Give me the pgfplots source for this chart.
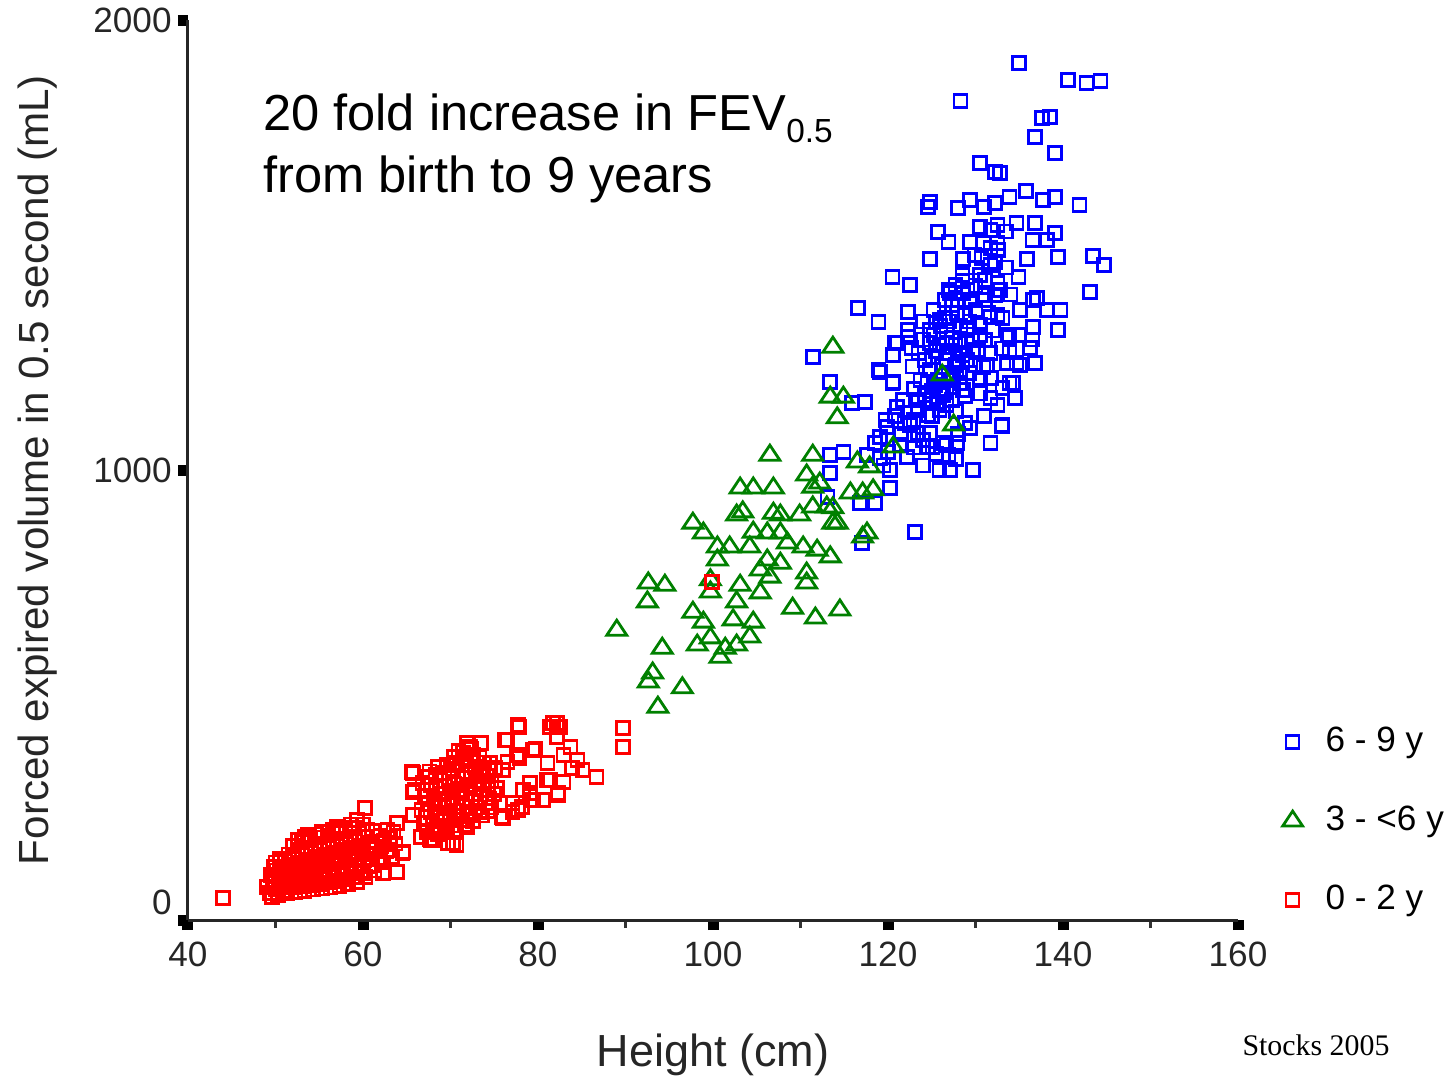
\documentclass[border=0pt]{standalone}
\usepackage{fontspec}
\setmainfont{Liberation Sans}
\newfontfamily\timesfont{Liberation Serif}
\usepackage{pgfplots}
\pgfplotsset{compat=1.18}
\definecolor{fgreen}{RGB}{0,128,0}

\begin{document}
\begin{tikzpicture}
\path[use as bounding box] (-18.8mm,-15.6mm) rectangle (126.7mm,92.0mm);
\begin{axis}[
    at={(0,0)}, anchor=south west,
    scale only axis,
    width=105mm, height=90mm,
    xmin=40, xmax=160, ymin=0, ymax=2000,
    axis x line*=bottom, axis y line*=left,
    axis line style={line width=0.3mm, black!85},
    xtick={40,60,...,160}, minor x tick num=1,
    ytick={0,1000,2000},
    yticklabels={{\raisebox{0.55mm}[0pt][0pt]{0}},1000,2000},
    tick align=outside,
    major tick length=1mm, minor tick length=0.8mm,
    every major tick/.append style={line width=1.1mm, black},
    every minor tick/.append style={line width=0.25mm, black!80},
    /pgf/number format/assume math mode=true,
    tick label style={font=\fontsize{10}{12}\selectfont, black!85},
    yticklabel style={xshift=0.6mm},
    xlabel={Height (cm)},
    ylabel={Forced expired volume in 0.5 second (mL)},
    every axis x label/.style={at={(axis description cs:0.5,-0.15)}, anchor=center,
        font=\fontsize{12.8}{14}\selectfont, black!85},
    every axis y label/.style={at={(axis description cs:-0.1429,0.5)}, rotate=90, anchor=center,
        font=\fontsize{12}{14}\selectfont, black!85},
    legend cell align=left,
    legend style={draw=none, fill=none, font=\fontsize{10}{12}\selectfont,
        at={(axis description cs:1,0.1133)}, anchor=west, xshift=4.4mm, yshift=-0.3mm,
        row sep=3.5mm, column sep=1.6mm, inner sep=0pt},
    clip=false,
]
% 6 - 9 y
\addplot[only marks, blue, mark=square, mark size=0.65mm, mark options={line width=0.26mm}] coordinates {
(135.0,1904) (140.6,1867) (142.7,1860) (144.3,1864) (128.3,1820) (137.6,1782) (138.5,1784)
(136.8,1740) (139.1,1704) (130.5,1682) (132.2,1662) (132.8,1660) (124.8,1596) (124.6,1584)
(128.0,1582) (129.4,1600) (132.2,1593) (133.9,1607) (135.8,1620) (137.7,1600) (139.1,1607)
(141.9,1589) (125.7,1529) (126.9,1507) (129.4,1507) (130.5,1540) (132.5,1544) (134.7,1549)
(136.8,1549) (139.1,1527) (136.5,1511) (138.2,1511) (130.9,1504) (132.5,1504) (124.8,1469)
(128.6,1469) (130.7,1471) (132.2,1462) (135.9,1469) (139.4,1473) (143.4,1476) (144.7,1456)
(120.5,1429) (122.5,1411) (128.5,1433) (130.5,1433) (132.5,1416) (134.9,1429) (143.1,1396)
(131.7,1533) (131.7,1493) (131.7,1456) (131.1,1422) (132.6,1489) (129.9,1478) (132.8,1400)
(131.1,1389)
(116.6,1360) (118.9,1329) (122.3,1351) (122.3,1311) (122.3,1296) (120.8,1282) (122.7,1271)
(120.6,1256) (119.1,1218) (120.5,1193) (121.7,1156) (123.3,1156) (125.0,1156) (126.7,1178)
(128.6,1178) (131.7,1160) (133.1,1182) (133.9,1193) (124.8,1311) (125.9,1333) (127.9,1349)
(128.6,1393) (127.1,1393) (129.0,1311) (130.5,1322) (131.7,1340) (132.5,1344) (133.1,1338)
(135.1,1356) (137.0,1382) (138.2,1356) (139.7,1356) (136.6,1318) (139.4,1311) (133.9,1296)
(136.2,1271) (133.9,1262) (134.7,1238) (136.8,1238) (133.6,1238) (131.3,1233) (131.7,1260)
(129.7,1267) (129.0,1244) (128.2,1216) (127.4,1184) (124.8,1222) (125.1,1251) (124.8,1282)
(126.7,1282) (128.2,1289) (126.7,1244) (126.7,1311)
(111.4,1251) (113.4,1196) (117.4,1151) (115.9,1149) (119.7,1111) (119.1,1073) (119.9,1096)
(121.9,1104) (122.9,1078) (124.8,1082) (125.1,1051) (126.7,1056) (128.8,1104) (129.4,1093)
(133.0,1098) (131.7,1060) (125.9,1000) (127.1,1000) (129.7,1000) (126.9,1033) (123.1,862)
(113.4,1033) (114.9,1040) (117.6,1033) (119.1,1027) (120.2,1000) (113.4,993) (120.2,960)
(113.1,940) (116.8,927) (117.0,838) (124.0,1067) (122.9,1111) (121.4,1056) (122.2,1029)
(118.5,927) (134.3,1193) (136.6,1378) (135.1,1233) (130.9,1229) (121.0,1282) (118.9,1222)
(120.6,1196) (123.4,1156) (125.6,1151) (122.5,1100) (123.4,1082) (124.6,1051) (126.3,1060)
(127.9,1060) (133.1,1100) (133.7,1300)
(126.5,1378) (127.3,1367) (128.0,1378) (126.5,1338) (127.3,1293) (127.7,1278) (128.5,1256)
(125.9,1278) (126.9,1211) (127.7,1233) (125.7,1200) (128.2,1193) (126.3,1167) (125.4,1189)
(124.2,1244) (123.7,1200) (124.2,1167) (123.4,1133) (124.6,1122) (125.9,1133) (127.3,1156)
(128.8,1344) (129.4,1378) (130.0,1356) (129.6,1289) (130.3,1267) (131.1,1289) (130.0,1233)
(129.1,1400) (127.7,1411) (131.1,1378) (132.2,1389)
(125.2,1300) (126.0,1320) (127.0,1330) (128.3,1320) (129.3,1330) (125.5,1265) (126.2,1230)
(127.0,1260) (128.0,1240) (129.3,1215) (130.5,1205) (124.5,1195) (125.0,1175) (126.0,1180)
(127.5,1200) (128.8,1165) (126.7,1145) (127.8,1130) (125.0,1120) (123.0,1180) (122.8,1230)
(123.5,1260) (124.0,1290) (124.0,1330) (125.2,1355) (127.0,1400) (128.5,1420) (130.0,1410)
(131.5,1350) (130.5,1300) (132.0,1310) (133.0,1270) (131.8,1205) (130.5,1170) (120.8,1120)
(121.5,1080) (120.0,1040) (118.5,1060) (119.5,1010) (121.0,1140) (123.0,1050) (124.0,1010)
(125.5,1035) (127.8,1025) (128.0,1080) (131.0,1120) (132.5,1145) (134.5,1160) (131.0,1585)
(133.5,1530) (130.0,1450) (133.5,1450) (134.0,1390) (135.0,1300) (136.5,1290)
};
\addlegendentry{6 - 9 y}
% 3 - <6 y
\addplot[only marks, fgreen, mark=triangle, mark size=1mm, mark options={line width=0.28mm, xscale=1.15}] coordinates {
(89.0,644) (92.6,749) (94.5,744) (92.5,707) (94.2,604) (93.1,549) (92.6,529) (96.5,516)
(93.7,473) (97.7,882) (98.9,860) (100.5,829) (101.9,829) (104.2,829) (104.6,862) (106.2,860)
(107.7,860) (108.5,838) (110.3,829) (111.9,822) (113.4,807) (100.5,800) (106.2,800) (107.7,793)
(105.4,778) (106.5,762) (110.7,771) (110.7,749) (99.7,756) (103.1,744) (105.4,727) (102.7,707)
(97.7,684) (98.9,662) (102.3,667) (104.6,662) (109.1,693) (111.7,671) (114.5,689) (99.7,627)
(102.7,611) (104.2,629) (98.2,611) (100.8,584) (106.5,1033) (111.4,1033) (110.7,989) (103.1,960)
(104.6,960) (106.9,960) (111.4,962) (102.7,900) (103.4,907) (106.9,904) (107.7,900) (109.9,900)
(111.4,918) (113.7,916) (114.2,882) (117.1,851) (113.7,1273) (113.4,1162) (114.9,1162) (114.2,1116)
(126.2,1211) (127.5,1100) (120.6,1051) (116.5,1018) (117.9,1007) (112.2,971) (115.7,949) (117.1,949)
(118.3,956) (113.7,882) (117.6,860) (113.0,918) (101.4,604) (99.7,729)
};
\addlegendentry{3 - <6 y}
% 0 - 2 y
\addplot[only marks, red, mark=square, mark size=0.65mm, mark options={line width=0.26mm}] coordinates {
(44.0,49) (49.0,73) (49.6,51) (50.5,129) (53.7,189) (60.2,249) (57.0,207) (62.3,104) (63.9,107)
(64.5,149) (63.9,216) (65.7,327) (65.7,284) (65.7,233) (68.0,178) (70.3,171) (71.9,207) (75.9,229)
(77.9,429) (76.2,400) (77.7,367) (79.4,378) (82.2,438) (81.4,429) (83.7,384) (84.5,356) (86.7,318)
(82.3,282) (80.6,267) (81.0,311) (79.1,304) (77.1,260) (79.1,282) (72.2,384) (89.7,427) (89.7,384)
(99.9,751)
(65.6,329) (65.9,289) (64.6,151) (67.7,178) (69.7,171) (70.7,167) (76.0,227) (77.7,244) (75.7,260)
(76.5,400) (77.7,433) (81.7,438) (82.5,429) (82.2,407) (79.7,380) (77.6,367) (81.1,349) (82.9,367)
(83.9,338) (85.1,333) (81.4,311) (82.9,307) (82.3,278) (78.3,289) (79.4,267) (78.2,251) (77.1,240)
(75.3,293) (76.0,333) (76.5,351) (77.9,360) (74.5,349) (73.7,327) (71.9,393) (73.5,393)
(49.4,60) (49.7,82) (49.5,100) (49.8,118)
(50.3,55) (50.7,76) (50.4,95) (50.8,114) (50.5,136)
(51.3,60) (51.7,80) (51.4,101) (51.8,122) (51.5,146)
(52.3,62) (52.7,84) (52.4,106) (52.8,128) (52.5,155) (52.6,178)
(53.3,65) (53.7,88) (53.4,110) (53.8,134) (53.5,160) (53.3,185)
(54.3,68) (54.7,90) (54.4,115) (54.8,140) (54.5,165) (54.6,190)
(55.3,70) (55.7,95) (55.4,120) (55.8,145) (55.5,170) (55.3,195)
(56.3,72) (56.7,98) (56.4,124) (56.8,150) (56.5,176) (56.6,200)
(57.3,75) (57.7,100) (57.4,128) (57.8,155) (57.5,180) (57.3,205)
(58.3,80) (58.7,105) (58.4,132) (58.8,160) (58.5,185) (58.6,212)
(59.3,85) (59.7,110) (59.4,138) (59.8,165) (59.5,192) (59.3,222)
(60.3,95) (60.7,120) (60.4,146) (60.8,172) (60.5,200)
(61.3,110) (61.7,135) (61.4,160) (61.8,186)
(62.3,128) (62.7,152) (62.4,176) (62.8,200)
(63.3,140) (63.7,170) (63.5,195)
(50.0,68) (50.0,90) (50.1,110) (50.0,128)
(51.0,65) (51.1,88) (51.0,108) (51.1,130)
(52.0,72) (52.1,95) (52.0,117) (52.1,140) (52.0,165)
(53.0,75) (53.1,98) (53.0,122) (53.1,147) (53.0,172)
(54.0,78) (54.1,102) (54.0,127) (54.1,152) (54.0,178)
(55.0,80) (55.1,107) (55.0,132) (55.1,158) (55.0,183)
(56.0,83) (56.1,110) (56.0,137) (56.1,163) (56.0,188)
(57.0,87) (57.1,114) (57.0,141) (57.1,168) (57.0,193)
(58.0,90) (58.1,118) (58.0,145) (58.1,172) (58.0,198)
(59.0,95) (59.1,122) (59.0,150) (59.1,178) (59.0,205)
(60.0,105) (60.1,132) (60.0,158) (60.1,186) (60.0,212)
(61.0,122) (61.1,148) (61.0,173) (61.1,198)
(62.0,138) (62.1,163) (62.0,188)
(63.0,155) (63.1,182)
(66.6,185) (67.0,215) (66.7,245) (67.1,275) (66.8,305)
(67.6,180) (68.0,210) (67.7,240) (68.1,270) (67.8,300) (67.6,330)
(68.6,190) (69.0,220) (68.7,250) (69.1,280) (68.8,310) (68.6,340)
(69.6,195) (70.0,225) (69.7,255) (70.1,285) (69.8,315) (69.6,345)
(70.6,200) (71.0,230) (70.7,260) (71.1,290) (70.8,320) (70.6,350) (70.9,375)
(71.6,212) (72.0,240) (71.7,270) (72.1,300) (71.8,330) (71.6,360) (71.9,385)
(72.6,220) (73.0,250) (72.7,280) (73.1,310) (72.8,340) (72.6,368)
(73.6,232) (74.0,260) (73.7,290) (74.1,320) (73.8,350)
(74.6,250) (75.0,280) (74.7,310) (75.1,338)
(67.3,195) (67.3,228) (67.4,258) (67.3,290) (67.4,318)
(68.3,200) (68.4,232) (68.3,262) (68.4,292) (68.3,322)
(69.3,205) (69.4,238) (69.3,268) (69.4,298) (69.3,328)
(70.3,210) (70.4,242) (70.3,272) (70.4,302) (70.3,335) (70.4,362)
(71.3,222) (71.4,252) (71.3,282) (71.4,315) (71.3,345) (71.4,372)
(72.3,232) (72.4,265) (72.3,295) (72.4,325) (72.3,355) (72.4,380)
(73.3,240) (73.4,272) (73.3,305) (73.4,335) (73.3,362)
(74.3,242) (74.4,270) (74.3,300) (74.4,332)
};
\addlegendentry{0 - 2 y}
\node[anchor=north west, inner sep=0pt, align=left, font=\fontsize{14.4}{17.6}\selectfont]
    at (axis cs:48.5,1838)
    {20 fold increase in FEV\raisebox{-1.2mm}{\fontsize{9.5}{10}\selectfont 0.5}\\from birth to 9 years};
\end{axis}
\node[font=\timesfont\fontsize{8.5}{10}\selectfont, anchor=center] at (112.8mm,-12.5mm) {Stocks 2005};
\end{tikzpicture}
\end{document}
